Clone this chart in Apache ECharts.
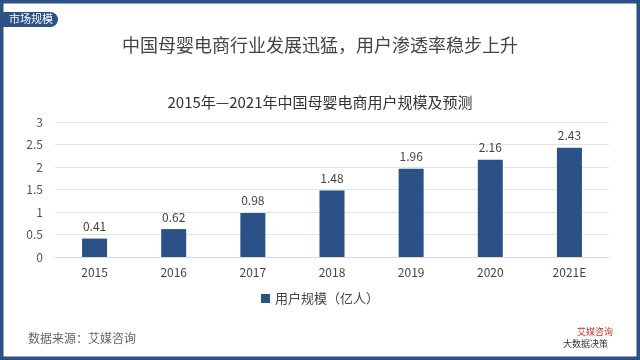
<!DOCTYPE html>
<html><head><meta charset="utf-8">
<script src="https://cdn.jsdelivr.net/npm/echarts@6/dist/echarts.min.js"></script>
<style>html,body{margin:0;padding:0;background:#fff}#c{width:640px;height:360px}</style>
</head><body><div id="c"></div>
<script>
var categories = ['2015','2016','2017','2018','2019','2020','2021E'];
var values = [0.41, 0.62, 0.98, 1.48, 1.96, 2.16, 2.43];
var seriesName = '用户规模（亿人）';
var yTicks = [0, 0.5, 1, 1.5, 2, 2.5, 3];

var FONT = '"Noto Sans CJK SC", "Noto Sans", sans-serif';
var BLUE = '#2b5186';
var chart = echarts.init(document.getElementById('c'));
chart.setOption({
  animation: false,
  textStyle: {fontFamily: FONT},
  title: [
    {text: '中国母婴电商行业发展迅猛，用户渗透率稳步上升', left: 'center', top: 31,
     textStyle: {fontSize: 18, fontWeight: 'normal', color: '#444', fontFamily: FONT}},
    {text: '2015年—2021年中国母婴电商用户规模及预测', left: 'center', top: 90,
     textStyle: {fontSize: 15, fontWeight: 'normal', color: '#333', fontFamily: FONT}}
  ],
  grid: {left: 55, right: 31, top: 122, bottom: 103},
  legend: {data: [seriesName], bottom: 50, left: 'center', itemWidth: 9, itemHeight: 9, itemGap: 5,
    icon: 'rect', textStyle: {fontSize: 13, color: '#444', fontFamily: FONT}},
  xAxis: {type: 'category', data: categories,
    axisLine: {lineStyle: {color: '#d9d9d9'}}, axisTick: {show: false},
    axisLabel: {color: '#444', fontSize: 12, margin: 9}},
  yAxis: {type: 'value', min: 0, max: 3, interval: 0.5,
    axisLine: {show: false}, axisTick: {show: false},
    splitLine: {lineStyle: {color: '#e3e3e3'}},
    axisLabel: {color: '#555', fontSize: 12, margin: 12}},
  series: [{name: seriesName, type: 'bar', data: values, barWidth: 25,
    itemStyle: {color: BLUE},
    label: {show: true, position: 'top', color: '#444', fontSize: 12, distance: 6}}],
  graphic: [
    {type: 'rect', shape: {x: 1.5, y: 1.5, width: 637, height: 357}, style: {fill: 'none', stroke: BLUE, lineWidth: 4}, silent: true},
    {type: 'rect', shape: {x: 0, y: 12, width: 58, height: 15, r: [0, 8, 8, 0]}, style: {fill: BLUE}},
    {type: 'text', left: 9, top: 13, style: {text: '市场规模', fill: '#fff', font: '11px ' + FONT}},
    {type: 'text', left: 28, top: 332, style: {text: '数据来源：艾媒咨询', fill: '#666', font: '12px ' + FONT}},
    {type: 'text', left: 577, top: 327, style: {text: '艾媒咨询', fill: '#c0392b', font: '9px ' + FONT}},
    {type: 'text', left: 563, top: 339, style: {text: '大数据决策', fill: '#333', font: '9px ' + FONT}}
  ]
});
</script></body></html>
